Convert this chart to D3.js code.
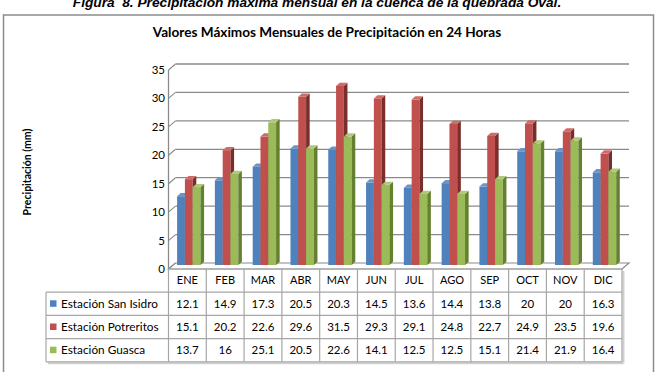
<!DOCTYPE html>
<html><head><meta charset="utf-8">
<script src="https://cdn.jsdelivr.net/npm/d3@7"></script>
<style>html,body{margin:0;padding:0;background:#fff;overflow:hidden}</style>
</head><body>
<svg id="c" width="659" height="372"></svg>
<script>
const months = ["ENE","FEB","MAR","ABR","MAY","JUN","JUL","AGO","SEP","OCT","NOV","DIC"];
const seriesNames = ["Estación San Isidro","Estación Potreritos","Estación Guasca"];
const sanIsidro = [12.1,14.9,17.3,20.5,20.3,14.5,13.6,14.4,13.8,20,20,16.3];
const potreritos = [15.1,20.2,22.6,29.6,31.5,29.3,29.1,24.8,22.7,24.9,23.5,19.6];
const guasca = [13.7,16,25.1,20.5,22.6,14.1,12.5,12.5,15.1,21.4,21.9,16.4];
const yTicks = [0,5,10,15,20,25,30,35];

const seriesVals = [sanIsidro, potreritos, guasca];
const front = ["#4F81BD","#C0504D","#9BBB59"];
const side = ["#2F5283","#7A2E2C","#65802F"];
const topc = ["#6A95CB","#CD6C69","#AFC97A"];

const svg = d3.select("#c");
const FONT = "Lato, 'Liberation Sans', sans-serif";

// caption
svg.append("text").attr("x",317).attr("y",7).attr("text-anchor","middle")
  .attr("font-family","'Liberation Sans', Arial, sans-serif").attr("font-weight","bold")
  .attr("font-style","italic").attr("font-size",13.7).attr("fill","#000")
  .attr("xml:space","preserve")
  .text("Figura  8. Precipitación máxima mensual en la cuenca de la quebrada Oval.");

// chart border
svg.append("rect").attr("x",3.5).attr("y",15).attr("width",650).attr("height",380)
  .attr("fill","none").attr("stroke","#8C8C8C").attr("stroke-width",1.5);

// title
svg.append("text").attr("x",327).attr("y",37).attr("text-anchor","middle")
  .attr("font-family",FONT).attr("font-weight","bold").attr("font-size",13.6).attr("fill","#000")
  .text("Valores Máximos Mensuales de Precipitación en 24 Horas");

// scales
const x = d3.scaleBand().domain(months).range([168.5,622]).paddingInner(0).paddingOuter(0);
const y = d3.scaleLinear().domain([0,35]).range([269,70]);
const DX = 7, DY = 6;       // wall depth offset
const bdx = 3.6, bdy = 3.2; // bar depth
const barW = 7.8, barOff = 8.6, barDown = 4;

// back wall gridlines and left wall
const g = svg.append("g");
yTicks.forEach(t=>{
  const yf = y(t);
  if (t>0) {
    g.append("line").attr("x1",x.range()[0]+DX).attr("x2",x.range()[1]+DX)
      .attr("y1",yf-DY).attr("y2",yf-DY).attr("stroke","#8A8A8A").attr("stroke-width",1.3);
  }
  g.append("line").attr("x1",x.range()[0]).attr("x2",x.range()[0]+DX)
    .attr("y1",yf).attr("y2",yf-DY).attr("stroke","#8A8A8A").attr("stroke-width",1.1);
  g.append("text").attr("x",165).attr("y",yf).attr("dy","0.35em").attr("text-anchor","end")
    .attr("font-family",FONT).attr("font-size",11.5).attr("fill","#000").text(t);
});
g.append("line").attr("x1",x.range()[0]).attr("x2",x.range()[0]).attr("y1",y(35)).attr("y2",y(0))
  .attr("stroke","#8A8A8A").attr("stroke-width",1.3);

// floor
const x0 = x.range()[0], x1 = x.range()[1], yf0 = y(0);
g.append("path").attr("d",`M${x0},${yf0} L${x0+DX},${yf0-DY} L${x1+DX},${yf0-DY} L${x1},${yf0} Z`)
  .attr("fill","#fff").attr("stroke","#8A8A8A").attr("stroke-width",1.2);

// y axis title
svg.append("text").attr("transform","translate(31,172) rotate(-90)").attr("text-anchor","middle")
  .attr("font-family",FONT).attr("font-weight","bold").attr("font-size",10.5).attr("fill","#000")
  .text("Precipitación (mm)");

// bars
const bars = svg.append("g");
months.forEach((m,i)=>{
  seriesVals.forEach((vals,s)=>{
    const v = vals[i];
    const bx0 = x(m) + barOff + s*barW, bx1 = bx0 + barW;
    const yb = y(0) - barDown, yt = y(v) - barDown;
    bars.append("rect").attr("x",bx0).attr("y",yt).attr("width",barW).attr("height",yb-yt).attr("fill",front[s]);
    bars.append("path").attr("d",`M${bx1},${yb} L${bx1+bdx},${yb-bdy} L${bx1+bdx},${yt-bdy} L${bx1},${yt} Z`).attr("fill",side[s]);
    bars.append("path").attr("d",`M${bx0},${yt} L${bx0+bdx},${yt-bdy} L${bx1+bdx},${yt-bdy} L${bx1},${yt} Z`).attr("fill",topc[s]);
  });
});

// data table
const rowTop = 269, rowH = 23.2, legX = 46;
const tbl = svg.append("g");
const lineC = "#A6A6A6";
tbl.append("line").attr("x1",x1+1.5).attr("x2",x1+1.5).attr("y1",rowTop+2).attr("y2",rowTop+4*rowH+1.5).attr("stroke","#D0D0D0").attr("stroke-width",2);
tbl.append("line").attr("x1",legX+2).attr("x2",x1+1.5).attr("y1",rowTop+4*rowH+1.5).attr("y2",rowTop+4*rowH+1.5).attr("stroke","#D0D0D0").attr("stroke-width",2);
tbl.append("line").attr("x1",x0).attr("x2",x1).attr("y1",rowTop).attr("y2",rowTop).attr("stroke",lineC).attr("stroke-width",1.2);
for (let r=1;r<=4;r++){
  tbl.append("line").attr("x1",legX).attr("x2",x1).attr("y1",rowTop+r*rowH).attr("y2",rowTop+r*rowH).attr("stroke",lineC).attr("stroke-width",1.2);
}
tbl.append("line").attr("x1",legX).attr("x2",legX).attr("y1",rowTop+rowH).attr("y2",rowTop+4*rowH).attr("stroke",lineC).attr("stroke-width",1.2);
months.forEach(m=>{
  tbl.append("line").attr("x1",x(m)).attr("x2",x(m)).attr("y1",rowTop).attr("y2",rowTop+4*rowH).attr("stroke",lineC).attr("stroke-width",1.2);
});
tbl.append("line").attr("x1",x1).attr("x2",x1).attr("y1",rowTop).attr("y2",rowTop+4*rowH).attr("stroke",lineC).attr("stroke-width",1.2);
months.forEach(m=>{
  tbl.append("text").attr("x",x(m)+x.bandwidth()/2).attr("y",rowTop+rowH/2).attr("dy","0.35em")
    .attr("text-anchor","middle").attr("font-family",FONT).attr("font-size",11).attr("fill","#000").text(m);
});
seriesVals.forEach((vals,s)=>{
  const cy = rowTop+(s+1.5)*rowH;
  tbl.append("rect").attr("x",legX+4).attr("y",cy-3.5).attr("width",6.5).attr("height",6.5).attr("fill",front[s]);
  tbl.append("text").attr("x",legX+15).attr("y",cy).attr("dy","0.35em").attr("font-family",FONT)
    .attr("font-size",11.8).attr("fill","#000").text(seriesNames[s]);
  months.forEach((m,i)=>{
    tbl.append("text").attr("x",x(m)+x.bandwidth()/2).attr("y",cy).attr("dy","0.35em")
      .attr("text-anchor","middle").attr("font-family",FONT).attr("font-size",11.5).attr("fill","#000").text(vals[i]);
  });
});
</script>
</body></html>
